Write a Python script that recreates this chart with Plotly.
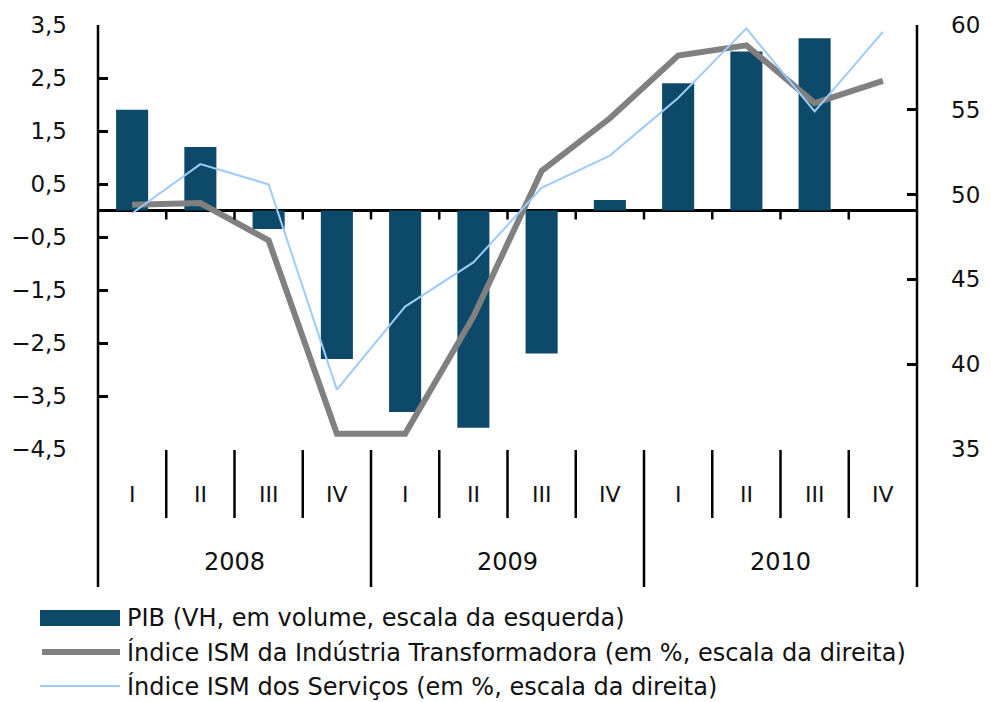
import plotly.graph_objects as go

# data
quarters = ["I", "II", "III", "IV"]
years = ["2008", "2009", "2010"]
pib = [1.9, 1.2, -0.35, -2.8, -3.8, -4.1, -2.7, 0.2, 2.4, 3.0, 3.25, None]
ism_industria = [49.4, 49.5, 47.3, 35.9, 35.9, 42.8, 51.4, 54.5, 58.2, 58.8, 55.4, 56.7]
ism_servicos = [48.9, 51.8, 50.6, 38.5, 43.4, 46.0, 50.4, 52.3, 55.7, 59.8, 54.9, 59.6]

left_ticks = [3.5, 2.5, 1.5, 0.5, -0.5, -1.5, -2.5, -3.5, -4.5]
right_ticks = [35, 40, 45, 50, 55, 60]

legend_names = [
    "PIB (VH, em volume, escala da esquerda)",
    "Índice ISM da Indústria Transformadora (em %, escala da direita)",
    "Índice ISM dos Serviços (em %, escala da direita)",
]

BAR = "#0D4A69"
GRAY = "#808080"
BLUE = "#9DCBFA"
FONT = "DejaVu Sans"

cats = [f"{q} {y}" for y in years for q in quarters]

# the page body has an 8px margin, so the figure is shifted by that much
OFF = 8
W, H = 991 - OFF, 702 - OFF
L, T = 98 - OFF, 25 - OFF
R = W - (917 - OFF)
B = H - (449 - OFF)
PH = H - T - B
PW = W - L - R


def py(p):
    # page pixel row -> paper y
    return (449 - p) / PH


def px_(p):
    # page pixel column -> paper x
    return (p - 98) / PW


fig = go.Figure()
fig.add_trace(go.Bar(x=cats, y=pib, marker=dict(color=BAR, line=dict(width=0)),
                     width=0.47, yaxis="y", name=legend_names[0]))
fig.add_trace(go.Scatter(x=cats, y=ism_industria, mode="lines", yaxis="y2",
                         line=dict(color=GRAY, width=6), name=legend_names[1]))
fig.add_trace(go.Scatter(x=cats, y=ism_servicos, mode="lines", yaxis="y2",
                         line=dict(color=BLUE, width=2), name=legend_names[2]))

shapes = []
annotations = []
n = len(cats)

# full height axis lines (extend down through the category labels)
for xp in (0, 1):
    shapes.append(dict(type="line", xref="paper", yref="paper", x0=xp, x1=xp,
                       y0=py(587), y1=1, line=dict(color="black", width=2.5)))

# ticks on the zero line and separators below the plot
for k in range(1, n):
    shapes.append(dict(type="line", xref="x", yref="y", x0=k - 0.5, x1=k - 0.5,
                       y0=0, y1=-0.17, line=dict(color="black", width=2.5)))
    bottom = py(587) if k % 4 == 0 else py(518)
    shapes.append(dict(type="line", xref="x", yref="paper", x0=k - 0.5, x1=k - 0.5,
                       y0=py(450), y1=bottom, line=dict(color="black", width=2.5)))

for c, q in zip(cats, quarters * len(years)):
    annotations.append(dict(x=c, xref="x", y=py(494), yref="paper", text=q,
                            yanchor="middle", showarrow=False,
                            font=dict(size=22, color="#111")))
for i, yr in enumerate(years):
    annotations.append(dict(x=i * 4 + 1.5, xref="x", y=py(562), yref="paper", text=yr,
                            yanchor="middle", showarrow=False,
                            font=dict(size=24, color="#111")))

# hand made legend
rows = [618, 652, 686]
shapes.append(dict(type="rect", xref="paper", yref="paper", x0=px_(40), x1=px_(120),
                   y0=py(610), y1=py(626), fillcolor=BAR, line=dict(width=0)))
shapes.append(dict(type="line", xref="paper", yref="paper", x0=px_(42), x1=px_(120),
                   y0=py(rows[1]), y1=py(rows[1]), line=dict(color=GRAY, width=6)))
shapes.append(dict(type="line", xref="paper", yref="paper", x0=px_(40), x1=px_(120),
                   y0=py(rows[2]), y1=py(rows[2]), line=dict(color=BLUE, width=2)))
for r, name in zip(rows, legend_names):
    annotations.append(dict(x=px_(125), xref="paper", y=py(r), yref="paper", text=name,
                            xanchor="left", yanchor="middle", showarrow=False,
                            font=dict(size=24, color="#111")))

fig.update_layout(
    width=W, height=H,
    margin=dict(l=L, r=R, t=T, b=B),
    paper_bgcolor="white", plot_bgcolor="white",
    showlegend=False,
    separators=", ",
    font=dict(family=FONT, size=23, color="#111"),
    xaxis=dict(type="category", range=[-0.5, n - 0.5], showticklabels=False,
               showgrid=False, zeroline=False, showline=False, ticks="",
               automargin=False),
    yaxis=dict(range=[-4.5, 3.5], tickvals=left_ticks, tickformat=".1f",
               ticks="inside", ticklen=10, tickwidth=2.5, tickcolor="black",
               showgrid=False, showline=False, zeroline=True, zerolinecolor="black",
               zerolinewidth=2.5, ticklabelstandoff=30, automargin=False),
    yaxis2=dict(range=[35, 60], tickvals=right_ticks, overlaying="y", side="right",
                ticks="inside", ticklen=10, tickwidth=2.5, tickcolor="black",
                showgrid=False, showline=False, zeroline=False, ticklabelstandoff=33,
                automargin=False),
    shapes=shapes,
    annotations=annotations,
)

fig.write_html("out.html")
